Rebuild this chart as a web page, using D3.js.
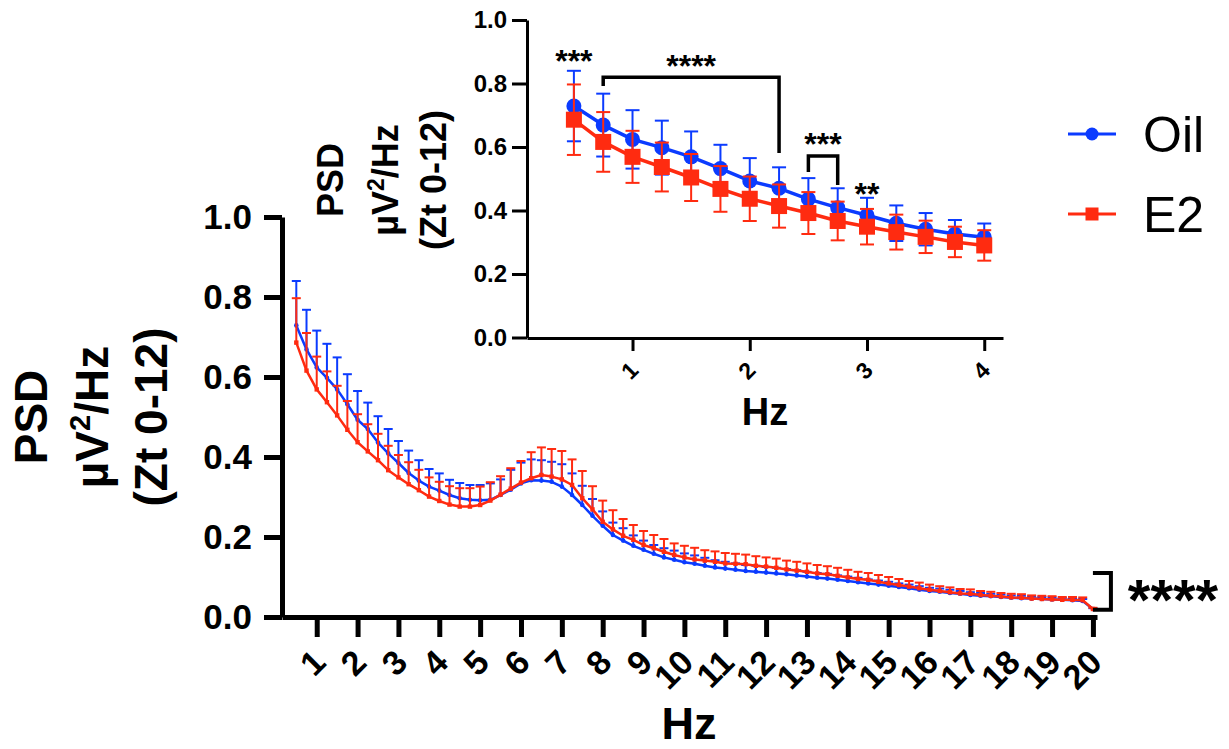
<!DOCTYPE html>
<html>
<head>
<meta charset="utf-8">
<script src="https://cdn.jsdelivr.net/npm/d3@7"></script>
<style>
  body { margin: 0; background: #ffffff; }
  #chart { width: 1229px; height: 749px; }
</style>
</head>
<body>
<div id="chart"></div>
<script>
// frequency bins (Hz)
var hz = [0.5, 0.75, 1, 1.25, 1.5, 1.75, 2, 2.25, 2.5, 2.75,
    3, 3.25, 3.5, 3.75, 4, 4.25, 4.5, 4.75, 5, 5.25,
    5.5, 5.75, 6, 6.25, 6.5, 6.75, 7, 7.25, 7.5, 7.75,
    8, 8.25, 8.5, 8.75, 9, 9.25, 9.5, 9.75, 10, 10.25,
    10.5, 10.75, 11, 11.25, 11.5, 11.75, 12, 12.25, 12.5, 12.75,
    13, 13.25, 13.5, 13.75, 14, 14.25, 14.5, 14.75, 15, 15.25,
    15.5, 15.75, 16, 16.25, 16.5, 16.75, 17, 17.25, 17.5, 17.75,
    18, 18.25, 18.5, 18.75, 19, 19.25, 19.5, 19.75, 20];

var oilMean = [0.729, 0.669, 0.624, 0.598, 0.569, 0.532, 0.493, 0.470, 0.436, 0.409,
    0.385, 0.360, 0.341, 0.326, 0.316, 0.305, 0.297, 0.293, 0.292, 0.293,
    0.305, 0.318, 0.334, 0.342, 0.341, 0.338, 0.326, 0.305, 0.280, 0.253,
    0.228, 0.205, 0.191, 0.178, 0.168, 0.158, 0.149, 0.143, 0.137, 0.133,
    0.128, 0.124, 0.121, 0.118, 0.115, 0.113, 0.111, 0.109, 0.107, 0.104,
    0.101, 0.098, 0.096, 0.093, 0.090, 0.087, 0.084, 0.081, 0.078, 0.075,
    0.072, 0.068, 0.065, 0.063, 0.060, 0.058, 0.055, 0.053, 0.052, 0.050,
    0.048, 0.047, 0.046, 0.045, 0.044, 0.043, 0.042, 0.040, 0.020];

var oilSd = [0.111, 0.099, 0.092, 0.085, 0.080, 0.075, 0.072, 0.066, 0.066, 0.061,
    0.055, 0.056, 0.051, 0.044, 0.043, 0.038, 0.038, 0.037, 0.038, 0.041,
    0.039, 0.050, 0.052, 0.052, 0.051, 0.050, 0.056, 0.054, 0.048, 0.042,
    0.036, 0.031, 0.031, 0.026, 0.023, 0.022, 0.023, 0.023, 0.022, 0.021,
    0.020, 0.018, 0.017, 0.016, 0.015, 0.015, 0.014, 0.014, 0.013, 0.013,
    0.012, 0.012, 0.012, 0.011, 0.011, 0.011, 0.010, 0.010, 0.010, 0.009,
    0.009, 0.009, 0.008, 0.008, 0.008, 0.007, 0.007, 0.007, 0.006, 0.006,
    0.006, 0.006, 0.005, 0.005, 0.005, 0.005, 0.005, 0.005, 0.002];

var e2Mean = [0.686, 0.616, 0.569, 0.537, 0.504, 0.468, 0.437, 0.414, 0.392, 0.367,
    0.349, 0.332, 0.317, 0.301, 0.290, 0.281, 0.276, 0.276, 0.280, 0.291,
    0.306, 0.321, 0.336, 0.347, 0.355, 0.351, 0.344, 0.330, 0.297, 0.269,
    0.238, 0.219, 0.203, 0.193, 0.180, 0.172, 0.163, 0.155, 0.149, 0.144,
    0.141, 0.138, 0.134, 0.133, 0.132, 0.128, 0.126, 0.123, 0.119, 0.116,
    0.113, 0.109, 0.107, 0.103, 0.099, 0.095, 0.093, 0.088, 0.084, 0.080,
    0.076, 0.072, 0.068, 0.065, 0.062, 0.059, 0.058, 0.055, 0.053, 0.051,
    0.049, 0.048, 0.046, 0.045, 0.044, 0.043, 0.043, 0.042, 0.020];

var e2Sd = [0.111, 0.094, 0.082, 0.077, 0.074, 0.072, 0.070, 0.068, 0.066, 0.061,
    0.056, 0.055, 0.051, 0.048, 0.048, 0.046, 0.046, 0.046, 0.046, 0.046,
    0.046, 0.051, 0.054, 0.065, 0.069, 0.069, 0.071, 0.064, 0.068, 0.058,
    0.053, 0.048, 0.042, 0.037, 0.035, 0.033, 0.032, 0.029, 0.029, 0.029,
    0.026, 0.026, 0.026, 0.025, 0.024, 0.024, 0.023, 0.023, 0.022, 0.022,
    0.021, 0.021, 0.020, 0.020, 0.019, 0.018, 0.017, 0.017, 0.016, 0.015,
    0.014, 0.014, 0.013, 0.012, 0.012, 0.011, 0.011, 0.010, 0.010, 0.009,
    0.009, 0.009, 0.008, 0.008, 0.008, 0.007, 0.007, 0.007, 0.003];

var seriesNames = ["Oil", "E2"];
var xTicksMain = [1, 2, 3, 4, 5, 6, 7, 8, 9, 10, 11, 12, 13, 14, 15, 16, 17, 18, 19, 20];
var xTicksInset = [1, 2, 3, 4];
var yTicks = [0, 0.2, 0.4, 0.6, 0.8, 1.0];
var insetMaxHz = 4;

// significance marks on the inset: label, Hz, value of text baseline
var sigLabels = ["***", "****", "***", "**"];
var sigHz = [0.5, 1.5, 2.625, 3];
var sigY = [0.836, 0.82, 0.575, 0.417];
// inset brackets: [hz left, hz right, bar level, left leg end, right leg end]
var brackets = [[0.75, 2.25, 0.82, 0.792, 0.581], [2.5, 2.75, 0.572, 0.521, 0.48]];
var mainSig = "****";

var BLUE = "#0b3bff", RED = "#ff2b10";
var FONT = "'Liberation Sans', Arial, Helvetica, sans-serif";

var svg = d3.select("#chart").append("svg")
    .attr("width", 1229).attr("height", 749)
    .style("background", "#ffffff")
    .attr("font-family", FONT);

// ---------- main chart ----------
var x = d3.scaleLinear().domain([0.15, 20.1]).range([282, 1097]);
var y = d3.scaleLinear().domain([0, 1]).range([617, 217]);

var main = svg.append("g");

function drawSeries(g, xs, ys, n, mean, sd, color, both, cap, sw, lw, marker, msize) {
    var idx = d3.range(n);
    var bars = g.append("g").attr("stroke", color).attr("stroke-width", sw).attr("fill", "none");
    idx.forEach(function(i) {
        var cx = xs(hz[i]);
        var top = ys(mean[i] + sd[i]);
        var bot = both ? ys(mean[i] - sd[i]) : ys(mean[i]);
        bars.append("line").attr("x1", cx).attr("x2", cx).attr("y1", top).attr("y2", bot);
        bars.append("line").attr("x1", cx - cap).attr("x2", cx + cap).attr("y1", top).attr("y2", top);
        if (both) {
            bars.append("line").attr("x1", cx - cap).attr("x2", cx + cap).attr("y1", bot).attr("y2", bot);
        }
    });
    var line = d3.line().x(function(i) { return xs(hz[i]); }).y(function(i) { return ys(mean[i]); });
    g.append("path").datum(idx).attr("d", line)
        .attr("fill", "none").attr("stroke", color).attr("stroke-width", lw)
        .attr("stroke-linejoin", "round");
    if (marker == "circle") {
        g.append("g").selectAll("circle").data(idx).enter().append("circle")
            .attr("cx", function(i) { return xs(hz[i]); })
            .attr("cy", function(i) { return ys(mean[i]); })
            .attr("r", msize).attr("fill", color);
    } else {
        g.append("g").selectAll("rect").data(idx).enter().append("rect")
            .attr("x", function(i) { return xs(hz[i]) - msize; })
            .attr("y", function(i) { return ys(mean[i]) - msize; })
            .attr("width", msize * 2).attr("height", msize * 2).attr("fill", color);
    }
}

drawSeries(main, x, y, hz.length, oilMean, oilSd, BLUE, false, 4.5, 2, 2.5, "circle", 2.3);
drawSeries(main, x, y, hz.length, e2Mean, e2Sd, RED, false, 4.5, 2, 2.5, "square", 2.2);

// axes
var yAxis = main.append("g").attr("transform", "translate(282,0)")
    .call(d3.axisLeft(y).tickValues(yTicks).tickSize(18).tickSizeOuter(0).tickPadding(12)
        .tickFormat(d3.format(".1f")));
var xAxis = main.append("g").attr("transform", "translate(0,617)")
    .call(d3.axisBottom(x).tickValues(xTicksMain).tickSize(20).tickSizeOuter(0)
        .tickFormat(d3.format("d")));

[yAxis, xAxis].forEach(function(a) {
    a.attr("font-family", FONT);
    a.select(".domain").attr("stroke", "#000").attr("stroke-width", 5);
    a.selectAll(".tick line").attr("stroke", "#000").attr("stroke-width", 5);
});
yAxis.selectAll("text").attr("font-size", 35).attr("font-weight", "bold").attr("fill", "#000");
xAxis.selectAll("text")
    .attr("font-size", 34).attr("font-weight", "bold").attr("fill", "#000")
    .attr("x", 0).attr("y", 0).attr("dy", "0.35em")
    .attr("text-anchor", "end")
    .attr("transform", "translate(2,39) rotate(-45)");

main.append("text").attr("x", 689).attr("y", 739)
    .attr("text-anchor", "middle").attr("font-size", 45).attr("font-weight", "bold")
    .text("Hz");

function yLabel(g, cx, cy, size, offsets, supSize, supShift) {
    var t = g.append("g").attr("transform", "translate(" + cx + "," + cy + ") rotate(-90)")
        .attr("font-weight", "bold").attr("font-size", size).attr("text-anchor", "middle");
    t.append("text").attr("x", 0).attr("y", offsets[0]).text("PSD");
    var l2 = t.append("text").attr("x", 0).attr("y", offsets[1]);
    l2.append("tspan").text("\u00b5V");
    l2.append("tspan").attr("font-size", supSize).attr("dy", -supShift).text("2");
    l2.append("tspan").attr("dy", supShift).text("/Hz");
    t.append("text").attr("x", 0).attr("y", offsets[2]).text("(Zt 0-12)");
}
yLabel(main, 0, 417, 46, [47, 108, 167], 29, 18);

// bracket + stars at right end
var bx = x(hz[hz.length - 1]);
main.append("path")
    .attr("d", "M" + bx + "," + y(0.11) + "H" + (bx + 18) + "V" + y(0.018) + "H" + bx)
    .attr("fill", "none").attr("stroke", "#000").attr("stroke-width", 4);
main.append("text").attr("x", 1173).attr("y", 620)
    .attr("text-anchor", "middle").attr("font-size", 58).attr("font-weight", "bold")
    .text(mainSig);

// ---------- inset ----------
var xi = d3.scaleLinear().domain([0.1, 4.16]).range([527, 1003]);
var yi = d3.scaleLinear().domain([0, 1]).range([337.5, 20]);
var inset = svg.append("g");
var nIn = hz.filter(function(h) { return h <= insetMaxHz; }).length;

var yAxisI = inset.append("g").attr("transform", "translate(527,0)")
    .call(d3.axisLeft(yi).tickValues(yTicks).tickSize(15).tickSizeOuter(0).tickPadding(5)
        .tickFormat(d3.format(".1f")));
var xAxisI = inset.append("g").attr("transform", "translate(0,338)")
    .call(d3.axisBottom(xi).tickValues(xTicksInset).tickSize(13).tickSizeOuter(0)
        .tickFormat(d3.format("d")));
[yAxisI, xAxisI].forEach(function(a) {
    a.attr("font-family", FONT);
    a.select(".domain").attr("stroke", "#000").attr("stroke-width", 3);
    a.selectAll(".tick line").attr("stroke", "#000").attr("stroke-width", 3);
});
yAxisI.selectAll("text").attr("font-size", 24).attr("font-weight", "bold").attr("fill", "#000");
xAxisI.selectAll("text")
    .attr("font-size", 23).attr("font-weight", "bold").attr("fill", "#000")
    .attr("x", 0).attr("y", 0).attr("dy", "0.35em")
    .attr("text-anchor", "end")
    .attr("transform", "translate(1,28) rotate(-45)");

drawSeries(inset, xi, yi, nIn, oilMean, oilSd, BLUE, true, 7, 2, 3.5, "circle", 7.5);
drawSeries(inset, xi, yi, nIn, e2Mean, e2Sd, RED, true, 7, 2, 3.5, "square", 8);

inset.append("text").attr("x", 765).attr("y", 425)
    .attr("text-anchor", "middle").attr("font-size", 38).attr("font-weight", "bold")
    .text("Hz");
yLabel(inset, 0, 180, 36, [343, 398, 446], 23, 14);

brackets.forEach(function(b) {
    inset.append("path")
        .attr("d", "M" + xi(b[0]) + "," + yi(b[3]) + "V" + yi(b[2]) + "H" + xi(b[1]) + "V" + yi(b[4]))
        .attr("fill", "none").attr("stroke", "#000").attr("stroke-width", 3.5);
});
sigLabels.forEach(function(s, i) {
    inset.append("text").attr("x", xi(sigHz[i])).attr("y", yi(sigY[i]))
        .attr("text-anchor", "middle").attr("font-size", 32).attr("font-weight", "bold")
        .text(s);
});

// ---------- legend ----------
var legend = svg.append("g");
var legY = [134, 214];
var legColors = [BLUE, RED];
seriesNames.forEach(function(name, i) {
    legend.append("line").attr("x1", 1068).attr("x2", 1116).attr("y1", legY[i]).attr("y2", legY[i])
        .attr("stroke", legColors[i]).attr("stroke-width", 3);
    if (i == 0) {
        legend.append("circle").attr("cx", 1092).attr("cy", legY[i]).attr("r", 6.5).attr("fill", legColors[i]);
    } else {
        legend.append("rect").attr("x", 1085.5).attr("y", legY[i] - 6.5).attr("width", 13).attr("height", 13)
            .attr("fill", legColors[i]);
    }
    legend.append("text").attr("x", 1143).attr("y", legY[i] + 18)
        .attr("font-size", 50).attr("fill", "#000").text(name);
});
</script>
</body>
</html>
